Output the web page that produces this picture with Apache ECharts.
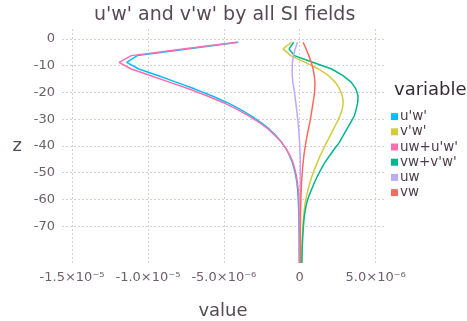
<!DOCTYPE html>
<html>
<head>
<meta charset="utf-8">
<script src="https://cdn.jsdelivr.net/npm/echarts@6/dist/echarts.min.js"></script>
<style>
  html, body { margin: 0; padding: 0; background: #fff; }
  #chart { width: 467px; height: 321px; }
</style>
</head>
<body>
<div id="chart"></div>
<script>
// depth of each level (m)
const zLevels = [-1.25, -3.75, -6.25, -8.75, -11.25, -13.75, -16.25, -18.75, -21.25, -23.75,
  -26.25, -28.75, -31.25, -33.75, -36.25, -38.75, -41.25, -43.75, -46.25, -48.75,
  -51.25, -53.75, -56.25, -58.75, -61.25, -63.75, -66.25, -68.75, -71.25, -73.75,
  -76.25, -78.75, -81.25, -83.75]

// fluxes, in units of 1e-6
const uwPrime = [-4.05, -7.4, -10.7, -11.4, -10.6, -9.3, -8.1, -6.9, -5.8, -4.8,
  -3.95, -3.2, -2.55, -2.0, -1.55, -1.18, -0.88, -0.66, -0.48, -0.36,
  -0.26, -0.19, -0.14, -0.11, -0.09, -0.07, -0.06, -0.05, -0.05, -0.04,
  -0.04, -0.04, -0.03, -0.03]
const vwPrime = [-0.55, -1.1, -0.6, 0.36, 1.25, 1.9, 2.35, 2.63, 2.8, 2.87,
  2.8, 2.65, 2.45, 2.22, 2.0, 1.76, 1.55, 1.33, 1.16, 0.97,
  0.81, 0.67, 0.55, 0.44, 0.36, 0.3, 0.26, 0.22, 0.19, 0.17,
  0.15, 0.13, 0.12, 0.11]
const uwTotal = [-4.15, -7.7, -11.1, -11.9, -11.1, -9.8, -8.55, -7.28, -6.12, -5.06,
  -4.16, -3.36, -2.66, -2.07, -1.59, -1.19, -0.87, -0.63, -0.44, -0.32,
  -0.22, -0.15, -0.1, -0.07, -0.05, -0.04, -0.03, -0.02, -0.02, -0.02,
  -0.02, -0.02, -0.02, -0.02]
const vwTotal = [-0.4, -0.7, -0.35, 0.85, 2.1, 2.85, 3.4, 3.7, 3.84, 3.82,
  3.72, 3.6, 3.35, 3.1, 2.85, 2.6, 2.27, 1.95, 1.65, 1.4,
  1.17, 0.96, 0.78, 0.6, 0.46, 0.37, 0.3, 0.26, 0.23, 0.2,
  0.18, 0.16, 0.15, 0.14]
const uwMean = [-0.15, -0.3, -0.42, -0.48, -0.5, -0.5, -0.45, -0.38, -0.32, -0.26,
  -0.21, -0.16, -0.11, -0.07, -0.04, -0.01, 0.01, 0.03, 0.04, 0.04,
  0.04, 0.04, 0.04, 0.03, 0.03, 0.03, 0.03, 0.03, 0.03, 0.02,
  0.02, 0.02, 0.02, 0.02]
const vwMean = [0.22, 0.42, 0.6, 0.76, 0.88, 0.96, 1.0, 0.99, 0.95, 0.88,
  0.81, 0.74, 0.66, 0.57, 0.48, 0.4, 0.33, 0.27, 0.22, 0.18,
  0.15, 0.12, 0.1, 0.08, 0.07, 0.06, 0.05, 0.05, 0.04, 0.04,
  0.04, 0.03, 0.03, 0.03]

const seriesNames = ["u'w'", "v'w'", "uw+u'w'", "vw+v'w'", 'uw', 'vw']
const seriesColors = ['#00BFFF', '#D4CA3A', '#FF6DAE', '#00B78D', '#BEA9FF', '#FF6A5E']
const seriesValues = [uwPrime, vwPrime, uwTotal, vwTotal, uwMean, vwMean]

const xTickValues = [-15, -10, -5, 0, 5]
const xTickLabels = ['-1.5×10⁻⁵', '-1.0×10⁻⁵', '-5.0×10⁻⁶', '0', '5.0×10⁻⁶']
const yTickValues = [0, -10, -20, -30, -40, -50, -60, -70]

const font = 'DejaVu Sans'
const gridStyle = { color: '#D0D0E0', width: 1, type: [2, 2] }

const chart = echarts.init(document.getElementById('chart'))
chart.setOption({
  animation: false,
  textStyle: { fontFamily: font },
  title: [{
    text: "u'w' and v'w' by all SI fields",
    left: 89,
    top: 1,
    textStyle: { fontFamily: font, fontSize: 19, fontWeight: 'normal', color: '#564A55' }
  }, {
    text: 'variable',
    left: 389,
    top: 76,
    textStyle: { fontFamily: font, fontSize: 18, fontWeight: 'normal', color: '#362A35' }
  }],
  legend: {
    orient: 'vertical',
    left: 391,
    top: 109,
    icon: 'rect',
    itemWidth: 7,
    itemHeight: 7,
    itemGap: 0,
    padding: 0,
    textStyle: { fontFamily: font, fontSize: 13.5, color: '#4C404B', lineHeight: 15.2, padding: [0, 0, 0, -3] },
    data: seriesNames
  },
  grid: { left: 62, right: 83, top: 29, bottom: 58, outerBoundsMode: 'none' },
  xAxis: {
    type: 'value',
    min: -15.66,
    max: 5.55,
    name: 'value',
    nameLocation: 'middle',
    nameGap: 39,
    nameTextStyle: { fontFamily: font, fontSize: 18, color: '#564A55' },
    axisLine: { show: false },
    axisTick: { show: false, customValues: xTickValues },
    axisLabel: {
      customValues: xTickValues,
      margin: 8,
      fontFamily: font,
      fontSize: 13,
      color: '#6C606B',
      formatter: v => xTickLabels[xTickValues.indexOf(Math.round(v))]
    },
    splitLine: { show: true, customValues: xTickValues, lineStyle: gridStyle }
  },
  yAxis: {
    type: 'value',
    min: -83.75,
    max: 3.7,
    name: 'z',
    nameLocation: 'middle',
    nameGap: 40,
    nameRotate: 0,
    nameTextStyle: { fontFamily: font, fontSize: 18, color: '#564A55' },
    axisLine: { show: false },
    axisTick: { show: false, customValues: yTickValues },
    axisLabel: {
      customValues: yTickValues,
      margin: 7,
      fontFamily: font,
      fontSize: 13,
      color: '#6C606B'
    },
    splitLine: { show: true, customValues: yTickValues, lineStyle: gridStyle }
  },
  series: seriesNames.map((name, i) => ({
    name: name,
    type: 'line',
    showSymbol: false,
    color: seriesColors[i],
    lineStyle: { width: 1.5 },
    data: seriesValues[i].map((v, k) => [v, zLevels[k]])
  }))
})
</script>
</body>
</html>
